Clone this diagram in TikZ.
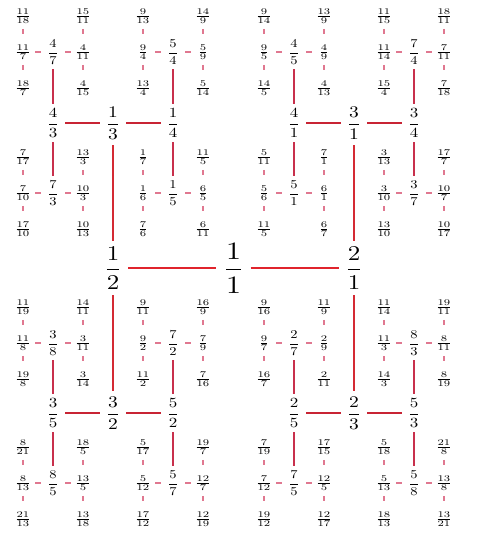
\documentclass[tikz,border=0pt]{standalone}
\usepackage{amsmath}
\usepackage{graphicx}
\usetikzlibrary{calc}
\definecolor{cA}{HTML}{E0242C}
\definecolor{cB}{HTML}{D42A34}
\definecolor{cC}{HTML}{C82434}
\definecolor{cD}{HTML}{C8304C}
\definecolor{cE}{HTML}{E07890}
\def\fsx{1}\def\fsy{1}
\def\bfrx#1/#2\relax{\scalebox{\fsx}[\fsy]{$\dfrac{#1}{#2}$}}
\newcommand\bfr[1]{\bfrx#1\relax}
\def\sfrx#1/#2\relax{\scalebox{1.6}[1.25]{$\frac{#1}{#2}$}}
\newcommand\sfr[1]{\sfrx#1\relax}
\tikzset{
  fr/.style={inner sep=0pt, outer sep=0pt},
  f0/.style={fr, execute at begin node={\def\fsx{3.0}\def\fsy{2.5}}},
  f1/.style={fr, execute at begin node={\def\fsx{2.5}\def\fsy{2.1}}},
  f2/.style={fr, execute at begin node={\def\fsx{1.95}\def\fsy{1.62}}},
  f3/.style={fr, execute at begin node={\def\fsx{1.7}\def\fsy{1.4}}},
  f4/.style={fr, execute at begin node={\def\fsx{1.45}\def\fsy{1.2}}},
  f5/.style={fr},
  e1/.style={draw=cA, line width=1.4pt, shorten <=6pt, shorten >=6pt},
  e2/.style={draw=cB, line width=1.5pt, shorten <=6pt, shorten >=6pt},
  e3/.style={draw=cC, line width=1.7pt, shorten <=6pt, shorten >=6pt},
  e4/.style={draw=cD, line width=1.6pt, shorten <=5pt, shorten >=5pt},
  hd/.style={draw=cE, line width=1.6pt, to path={($(\tikztostart)!.5!(\tikztotarget)!2.7pt!(\tikztostart)$) -- ($(\tikztostart)!.5!(\tikztotarget)!2.7pt!(\tikztotarget)$)}},
  vd/.style={draw=cE, line width=1.6pt, to path={($(\tikztostart)!.5!(\tikztotarget)!2.7pt!(\tikztostart)+(0,2.5pt)$) -- ($(\tikztostart)!.5!(\tikztotarget)!2.7pt!(\tikztotarget)+(0,2.5pt)$)}},
}
% cluster: name, position, centre, left, right, left-up, left-down, right-up, right-down
\newcommand\clus[9]{%
  \node[f4] (#1) at (#2) {\bfr{#3}};
  \node[f5] (#1l) at ([xshift=-30pt]#1.center) {\sfr{#4}};
  \node[f5] (#1r) at ([xshift=30pt]#1.center) {\sfr{#5}};
  \node[f5] (#1lu) at ([yshift=36pt]#1l.center) {\sfr{#6}};
  \node[f5] (#1ld) at ([yshift=-36pt]#1l.center) {\sfr{#7}};
  \node[f5] (#1ru) at ([yshift=36pt]#1r.center) {\sfr{#8}};
  \node[f5] (#1rd) at ([yshift=-36pt]#1r.center) {\sfr{#9}};
  \draw[hd] (#1l) to (#1);
  \draw[hd] (#1) to (#1r);
  \draw[vd] (#1lu) to (#1l);
  \draw[vd] (#1l) to (#1ld);
  \draw[vd] (#1ru) to (#1r);
  \draw[vd] (#1r) to (#1rd);
}
\begin{document}
\begin{tikzpicture}[x=1pt, y=1pt]
\useasboundingbox (0,0) rectangle (477,542);
% level 0 and 1
\node[f0] (c) at (233.5,274) {\bfr{1/1}};
\node[f1] (a) at (113,274) {\bfr{1/2}};
\node[f1] (b) at (354,274) {\bfr{2/1}};
% level 2
\node[f2] (a1) at (113,419) {\bfr{1/3}};
\node[f2] (a2) at (113,129) {\bfr{3/2}};
\node[f2] (b1) at (354,419) {\bfr{3/1}};
\node[f2] (b2) at (354,129) {\bfr{2/3}};
% level 3
\node[f3] (a1l) at (53,419) {\bfr{4/3}};
\node[f3] (a1r) at (173,419) {\bfr{1/4}};
\node[f3] (b1l) at (294,419) {\bfr{4/1}};
\node[f3] (b1r) at (414,419) {\bfr{3/4}};
\node[f3] (a2l) at (53,129) {\bfr{3/5}};
\node[f3] (a2r) at (173,129) {\bfr{5/2}};
\node[f3] (b2l) at (294,129) {\bfr{2/5}};
\node[f3] (b2r) at (414,129) {\bfr{5/3}};
% levels 4 to 6
\clus{p1}{53,490}{4/7}{11/7}{4/11}{11/18}{18/7}{15/11}{4/15}
\clus{p2}{173,490}{5/4}{9/4}{5/9}{9/13}{13/4}{14/9}{5/14}
\clus{p3}{294,490}{4/5}{9/5}{4/9}{9/14}{14/5}{13/9}{4/13}
\clus{p4}{414,490}{7/4}{11/14}{7/11}{11/15}{15/4}{18/11}{7/18}
\clus{p5}{53,349}{7/3}{7/10}{10/3}{7/17}{17/10}{13/3}{10/13}
\clus{p6}{173,349}{1/5}{1/6}{6/5}{1/7}{7/6}{11/5}{6/11}
\clus{p7}{294,349}{5/1}{5/6}{6/1}{5/11}{11/5}{7/1}{6/7}
\clus{p8}{414,349}{3/7}{3/10}{10/7}{3/13}{13/10}{17/7}{10/17}
\clus{p9}{53,199}{3/8}{11/8}{3/11}{11/19}{19/8}{14/11}{3/14}
\clus{p10}{173,199}{7/2}{9/2}{7/9}{9/11}{11/2}{16/9}{7/16}
\clus{p11}{294,199}{2/7}{9/7}{2/9}{9/16}{16/7}{11/9}{2/11}
\clus{p12}{414,199}{8/3}{11/3}{8/11}{11/14}{14/3}{19/11}{8/19}
\clus{p13}{53,59}{8/5}{8/13}{13/5}{8/21}{21/13}{18/5}{13/18}
\clus{p14}{173,59}{5/7}{5/12}{12/7}{5/17}{17/12}{19/7}{12/19}
\clus{p15}{294,59}{7/5}{7/12}{12/5}{7/19}{19/12}{17/15}{12/17}
\clus{p16}{414,59}{5/8}{5/13}{13/8}{5/18}{18/13}{21/8}{13/21}
% connectors
\draw[e1] (a) -- (c);
\draw[e1] (c) -- (b);
\draw[e2] (a1) -- (a);
\draw[e2] (a) -- (a2);
\draw[e2] (b1) -- (b);
\draw[e2] (b) -- (b2);
\draw[e3] (a1l) -- (a1);
\draw[e3] (a1) -- (a1r);
\draw[e3] (b1l) -- (b1);
\draw[e3] (b1) -- (b1r);
\draw[e3] (a2l) -- (a2);
\draw[e3] (a2) -- (a2r);
\draw[e3] (b2l) -- (b2);
\draw[e3] (b2) -- (b2r);
\draw[e4] (p1) -- (a1l);
\draw[e4] (a1l) -- (p5);
\draw[e4] (p2) -- (a1r);
\draw[e4] (a1r) -- (p6);
\draw[e4] (p3) -- (b1l);
\draw[e4] (b1l) -- (p7);
\draw[e4] (p4) -- (b1r);
\draw[e4] (b1r) -- (p8);
\draw[e4] (p9) -- (a2l);
\draw[e4] (a2l) -- (p13);
\draw[e4] (p10) -- (a2r);
\draw[e4] (a2r) -- (p14);
\draw[e4] (p11) -- (b2l);
\draw[e4] (b2l) -- (p15);
\draw[e4] (p12) -- (b2r);
\draw[e4] (b2r) -- (p16);
\end{tikzpicture}
\end{document}
